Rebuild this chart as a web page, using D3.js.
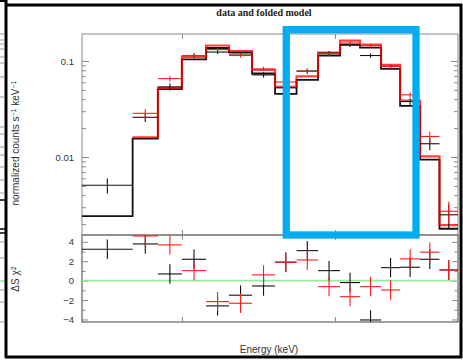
<!DOCTYPE html>
<html>
<head>
<meta charset="utf-8">
<script src="https://cdn.jsdelivr.net/npm/d3@7"></script>
<style>
  html, body { margin: 0; padding: 0; background: #fff; }
  svg { display: block; }
</style>
</head>
<body>
<svg id="chart" width="463" height="360"></svg>
<script>
// Energy bin edges (keV), 16 bins
const binEdges = [0.636, 0.80, 0.897, 1.00, 1.116, 1.238, 1.374, 1.525, 1.681, 1.853, 2.047, 2.241, 2.465, 2.687, 2.942, 3.212, 3.493];

// Spectrum 1 (black): normalized counts s^-1 keV^-1
const blackData  = [0.00507, 0.0259, 0.0537, 0.114, 0.1239, 0.1154, 0.0716, 0.0525, 0.0787, 0.121, 0.1466, 0.114, 0.0877, 0.0378, 0.01374, 0.0025];
const blackErr   = [0.0009, 0.0028, 0.0045, 0.006, 0.006, 0.0055, 0.0045, 0.004, 0.0049, 0.006, 0.0068, 0.006, 0.0045, 0.0028, 0.002, 0.0007];
const blackModel = [0.00242, 0.0155, 0.0508, 0.1037, 0.1365, 0.1225, 0.0741, 0.0454, 0.0635, 0.114, 0.1483, 0.138, 0.0826, 0.0341, 0.00937, 0.00179];
const blackResid = [3.24, 3.78, 0.69, 2.2, -2.6, -1.5, -0.55, 1.9, 3.09, 1.03, -0.2, -4.05, 1.34, 1.38, 2.2, 1.1];

// Spectrum 2 (red): no counts in the first bin
const redData  = [null, 0.0285, 0.0655, 0.114, 0.1315, 0.114, 0.0826, 0.0605, 0.0778, 0.1197, 0.1538, 0.1448, 0.0877, 0.0444, 0.01637, 0.00272];
const redErr   = [null, 0.003, 0.0045, 0.006, 0.006, 0.0057, 0.0045, 0.004, 0.0045, 0.006, 0.0068, 0.0063, 0.0045, 0.0028, 0.0021, 0.0007];
const redModel = [null, 0.01606, 0.0525, 0.1101, 0.1449, 0.1271, 0.0807, 0.0537, 0.069, 0.1225, 0.1633, 0.1483, 0.0909, 0.0387, 0.01014, 0.00195];
const redResid = [null, 4.6, 3.68, 1.03, -2.16, -2.33, 0.59, 1.9, 2.13, -0.62, -1.65, -0.62, -0.96, 2.24, 2.93, 1.1];

// Axis ticks
const countTicks = [0.01, 0.1];
const countMinorTicks = [0.002, 0.003, 0.004, 0.005, 0.006, 0.007, 0.008, 0.009,
                         0.02, 0.03, 0.04, 0.05, 0.06, 0.07, 0.08, 0.09];
const residTicks = [-4, -2, 0, 2, 4];
const residMinorTicks = [-3, -1, 1, 3];
const energyTicks = [1, 2];

const svg = d3.select("#chart");
const L = 82, R = 458, T1 = 34, B1 = 235, T2 = 235, B2 = 322;
const axisGray = "#8a8a8a";
const sans = "'Liberation Sans', Arial, Helvetica, sans-serif";

const x = d3.scaleLog().domain([binEdges[0], binEdges[binEdges.length - 1]]).range([L, R]);
const yTop = d3.scaleLog().domain([0.00154, 0.191]).range([B1, T1]);
const yRes = d3.scaleLinear().domain([-4.26, 4.7]).range([B2, T2]);

// Clip regions for each panel
const defs = svg.append("defs");
defs.append("clipPath").attr("id", "clipTop")
  .append("rect").attr("x", L).attr("y", T1).attr("width", R - L).attr("height", B1 - T1);
defs.append("clipPath").attr("id", "clipRes")
  .append("rect").attr("x", L).attr("y", T2).attr("width", R - L).attr("height", B2 - T2);

// Fragments of the neighbouring panel at the far left edge
const stub = svg.append("g");
[34, 40, 44, 49, 57, 63, 77, 97, 127, 134, 147, 155, 167, 180, 193, 242, 258, 290, 302, 322].forEach(yy => {
  stub.append("line").attr("x1", 0).attr("x2", 4).attr("y1", yy).attr("y2", yy)
    .attr("stroke", "#999").attr("stroke-width", 1);
});
stub.append("line").attr("x1", 0).attr("x2", 5).attr("y1", 200).attr("y2", 200).attr("stroke", "#000").attr("stroke-width", 1.5);
stub.append("line").attr("x1", 0).attr("x2", 5).attr("y1", 229).attr("y2", 229).attr("stroke", "#000").attr("stroke-width", 1.5);
stub.append("line").attr("x1", 0).attr("x2", 5).attr("y1", 233).attr("y2", 233).attr("stroke", "#000").attr("stroke-width", 1.5);
stub.append("line").attr("x1", 0).attr("x2", 5).attr("y1", 281).attr("y2", 281).attr("stroke", "#90e890").attr("stroke-width", 1.5);
stub.append("line").attr("x1", 0).attr("x2", 6).attr("y1", 1).attr("y2", 1).attr("stroke", "#000").attr("stroke-width", 2);

// Title
svg.append("text").attr("x", 264).attr("y", 15.5).attr("text-anchor", "middle")
  .style("font-family", "'Liberation Serif', 'Times New Roman', serif")
  .style("font-weight", "bold").style("font-size", "10px").attr("fill", "#222")
  .text("data and folded model");

// Axis helper: draw ticks pointing into the panel
function drawAxis(axisGen, tx, ty, showLabels) {
  const g = svg.append("g").attr("transform", `translate(${tx},${ty})`).call(axisGen);
  g.select(".domain").remove();
  g.selectAll(".tick line").attr("stroke", axisGray).attr("stroke-width", 1);
  g.selectAll(".tick text").attr("fill", "#333").style("font-family", sans).style("font-size", "9.5px");
  if (!showLabels) g.selectAll(".tick text").remove();
  return g;
}

// Top panel axes
drawAxis(d3.axisLeft(yTop).tickValues(countTicks).tickSize(-7).tickPadding(8).tickFormat(d3.format("")), L, 0, true);
drawAxis(d3.axisLeft(yTop).tickValues(countMinorTicks).tickSize(-4).tickFormat(""), L, 0, false);
drawAxis(d3.axisRight(yTop).tickValues(countTicks).tickSize(-7).tickFormat(""), R, 0, false);
drawAxis(d3.axisRight(yTop).tickValues(countMinorTicks).tickSize(-4).tickFormat(""), R, 0, false);
drawAxis(d3.axisTop(x).tickValues(energyTicks).tickSize(-5).tickFormat(""), 0, T1, false);
drawAxis(d3.axisBottom(x).tickValues(energyTicks).tickSize(-5).tickFormat(""), 0, B1, false);

// Residual panel axes
drawAxis(d3.axisLeft(yRes).tickValues(residTicks).tickSize(-6).tickPadding(8)
  .tickFormat(d => d < 0 ? "\u2212" + Math.abs(d) : String(d)), L, 0, true);
drawAxis(d3.axisLeft(yRes).tickValues(residMinorTicks).tickSize(-3.5).tickFormat(""), L, 0, false);
drawAxis(d3.axisRight(yRes).tickValues(residTicks).tickSize(-6).tickFormat(""), R, 0, false);
drawAxis(d3.axisRight(yRes).tickValues(residMinorTicks).tickSize(-3.5).tickFormat(""), R, 0, false);
drawAxis(d3.axisTop(x).tickValues(energyTicks).tickSize(-5).tickFormat(""), 0, T2, false);
drawAxis(d3.axisBottom(x).tickValues(energyTicks).tickSize(-5).tickFormat(""), 0, B2, false);

// Panel frames
svg.append("rect").attr("x", L).attr("y", T1).attr("width", R - L).attr("height", B1 - T1)
  .attr("fill", "none").attr("stroke", axisGray).attr("stroke-width", 1);
svg.append("rect").attr("x", L).attr("y", T2).attr("width", R - L).attr("height", B2 - T2)
  .attr("fill", "none").attr("stroke", "#808080").attr("stroke-width", 1.5);

// Zero line in the residual panel
svg.append("line").attr("x1", L).attr("x2", R).attr("y1", yRes(0)).attr("y2", yRes(0))
  .attr("stroke", "#9be89b").attr("stroke-width", 1.6);

// Build bins
function bins(vals, errs) {
  return vals.map((v, i) => ({ lo: binEdges[i], hi: binEdges[i + 1], v, e: errs ? errs[i] : 1 }))
             .filter(d => d.v !== null);
}

// Model histograms
const topG = svg.append("g").attr("clip-path", "url(#clipTop)");
function drawModel(model, color, width, opacity) {
  const b = bins(model);
  const pts = b.map(d => [d.lo, d.v]);
  pts.push([b[b.length - 1].hi, b[b.length - 1].v]);
  const line = d3.line().x(d => x(d[0])).y(d => yTop(d[1])).curve(d3.curveStepAfter);
  topG.append("path").attr("d", line(pts)).attr("fill", "none")
    .attr("stroke", color).attr("stroke-width", width).attr("stroke-opacity", opacity);
}
drawModel(blackModel, "#111", 1.8, 1);
drawModel(redModel, "#ff0000", 2.2, 0.75);

// Data crosses
function drawCrosses(g, b, yScale, color) {
  const cg = g.append("g").attr("stroke", color).attr("stroke-width", 1.1);
  b.forEach(d => {
    const xc = x(Math.sqrt(d.lo * d.hi));
    cg.append("line").attr("x1", x(d.lo)).attr("x2", x(d.hi))
      .attr("y1", yScale(d.v)).attr("y2", yScale(d.v));
    cg.append("line").attr("x1", xc).attr("x2", xc)
      .attr("y1", yScale(d.v - d.e)).attr("y2", yScale(d.v + d.e));
  });
}
drawCrosses(topG, bins(blackData, blackErr), yTop, "#111");
drawCrosses(topG, bins(redData, redErr), yTop, "#ff1a1a");

const resG = svg.append("g").attr("clip-path", "url(#clipRes)");
drawCrosses(resG, bins(blackResid), yRes, "#111");
drawCrosses(resG, bins(redResid), yRes, "#ff1a1a");

// Axis titles
const yLab = svg.append("text").attr("transform", "translate(19,143) rotate(-90)")
  .attr("text-anchor", "middle").attr("fill", "#333")
  .style("font-family", sans).style("font-size", "10px");
yLab.append("tspan").text("normalized counts s");
yLab.append("tspan").attr("dy", -3.5).style("font-size", "7px").text("\u22121");
yLab.append("tspan").attr("dy", 3.5).text(" keV");
yLab.append("tspan").attr("dy", -3.5).style("font-size", "7px").text("\u22121");

const rLab = svg.append("text").attr("transform", "translate(19,279) rotate(-90)")
  .attr("text-anchor", "middle").attr("fill", "#333")
  .style("font-family", sans).style("font-size", "10px");
rLab.append("tspan").text("\u0394S \u03c7");
rLab.append("tspan").attr("dy", -3.5).style("font-size", "7px").text("2");

svg.append("text").attr("x", 269).attr("y", 353).attr("text-anchor", "middle")
  .attr("fill", "#333").style("font-family", sans).style("font-size", "10px")
  .text("Energy (keV)");

// Highlight box
svg.append("rect").attr("x", 286.3).attr("y", 29.7).attr("width", 416 - 286.3).attr("height", 235 - 29.7)
  .attr("fill", "none").attr("stroke", "#00aeef").attr("stroke-width", 7.3);

// Outer frame
const frame = svg.append("g").attr("stroke", "#000").attr("stroke-width", 3).attr("fill", "none");
frame.append("line").attr("x1", 6).attr("x2", 6).attr("y1", 0).attr("y2", 358);
frame.append("line").attr("x1", 5).attr("x2", 462).attr("y1", 5).attr("y2", 5);
frame.append("line").attr("x1", 461).attr("x2", 461).attr("y1", 4).attr("y2", 358);
frame.append("line").attr("x1", 5).attr("x2", 462).attr("y1", 357).attr("y2", 357);
</script>
</body>
</html>
